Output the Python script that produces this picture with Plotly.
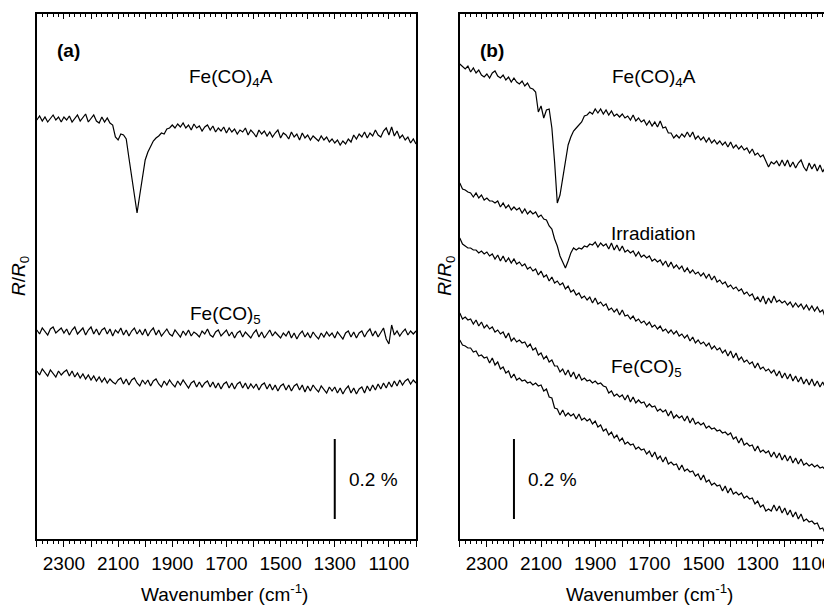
import plotly.graph_objects as go

# ---------------- data ----------------
# wavenumber grid, cm^-1
WAVENUMBER = list(range(2400, 999, -10))

# R/R0 traces, in units of 0.0025 % (so the 0.2 % scale bar = 80 units),
# each trace includes its vertical display offset
A_FECO4A = [
    419, 423, 418, 422, 417, 421, 424, 419, 422, 417,
    422, 419, 423, 417, 420, 424, 418, 422, 425, 417,
    421, 424, 418, 416, 422, 417, 421, 416, 414, 402,
    399, 405, 404, 400, 381, 361, 341, 326, 344, 362,
    379, 387, 393, 398, 401, 403, 406, 405, 410, 411,
    414, 411, 415, 412, 416, 411, 414, 409, 415, 411,
    413, 408, 412, 414, 409, 413, 407, 411, 408, 412,
    406, 411, 407, 410, 405, 409, 407, 411, 404, 409,
    406, 402, 409, 405, 408, 403, 407, 402, 406, 409,
    401, 406, 404, 400, 407, 402, 405, 399, 406, 401,
    404, 399, 403, 400, 398, 403, 399, 402, 397, 400,
    396, 399, 394, 398, 395, 400, 397, 404, 400, 405,
    402, 407, 401, 406, 403, 409, 404, 402, 408, 411,
    404, 412, 403, 408, 401, 404, 399, 402, 396, 400,
    395,
]
A_FECO5 = [
    209, 205, 211, 207, 204, 210, 212, 206, 209, 211,
    206, 210, 204, 209, 212, 205, 208, 211, 204, 209,
    212, 205, 210, 204, 209, 211, 205, 210, 203, 209,
    206, 211, 204, 209, 203, 208, 211, 205, 209, 204,
    210, 203, 208, 211, 204, 209, 203, 207, 210, 205,
    203, 209, 206, 202, 208, 204, 209, 203, 207, 205,
    202, 208, 205, 210, 204, 202, 207, 209, 203, 206,
    209, 203, 207, 201, 206, 208, 202, 207, 204, 201,
    206, 209, 202, 207, 201, 205, 209, 203, 207, 204,
    201, 206, 203, 208, 201, 206, 200, 205, 208, 202,
    206, 201, 207, 203, 200, 206, 202, 207, 203, 206,
    201, 207, 203, 200, 206, 208, 202, 207, 201, 206,
    208, 202, 207, 210, 203, 208, 202, 207, 211, 200,
    195, 214, 204, 208, 203, 207, 210, 204, 208, 205,
    208,
]
A_BLANK = [
    168, 164, 170, 166, 163, 169, 165, 162, 168, 164,
    167, 169, 163, 168, 162, 166, 161, 165, 160, 164,
    159, 163, 158, 162, 157, 161, 156, 160, 157, 155,
    159, 161, 155, 160, 154, 159, 161, 156, 153, 159,
    155, 159, 153, 158, 160, 155, 152, 158, 154, 159,
    155, 152, 158, 154, 159, 155, 151, 156, 158, 152,
    157, 152, 156, 158, 152, 157, 151, 156, 150, 155,
    157, 151, 156, 150, 155, 157, 151, 156, 150, 155,
    151, 155, 149, 154, 156, 150, 155, 149, 154, 148,
    153, 155, 149, 154, 148, 153, 155, 149, 154, 147,
    153, 148, 154, 150, 147, 153, 149, 146, 152, 148,
    152, 146, 151, 145, 150, 153, 146, 151, 145, 150,
    152, 146, 153, 148, 154, 149, 155, 150, 156, 151,
    157, 152, 158, 153, 159, 154, 158, 160, 155, 159,
    156,
]
B_FECO4A = [
    475, 472, 470, 473, 467, 471, 466, 469, 464, 462,
    465, 461, 466, 468, 463, 461, 464, 459, 462, 457,
    461, 457, 455, 458, 453, 456, 451, 450, 447, 427,
    433, 421, 429, 430, 411, 377, 336, 344, 361, 374,
    394, 402, 408, 411, 414, 417, 423, 424, 427, 425,
    430, 426, 430, 425, 429, 424, 428, 423, 425, 422,
    425, 421, 423, 419, 424, 418, 421, 417, 419, 414,
    418, 413, 417, 412, 418, 411, 412, 406, 406, 401,
    404, 401, 405, 402, 407, 402, 407, 400, 403, 399,
    402, 397, 401, 396, 399, 395, 398, 394, 397, 392,
    397, 391, 394, 390, 393, 389, 391, 386, 390, 384,
    386, 382, 384, 378, 372, 377, 375, 378, 373, 379,
    373, 379, 372, 377, 371, 376, 379, 372, 368, 376,
    370, 375, 368, 374, 367, 372, 366, 370, 365, 369,
    364,
]
B_IRRAD = [
    356, 350, 349, 347, 346, 342, 346, 341, 344, 339,
    341, 338, 338, 336, 338, 332, 336, 331, 334, 329,
    332, 329, 331, 326, 330, 325, 328, 325, 327, 322,
    324, 320, 319, 313, 310, 300, 293, 283, 277, 271,
    278, 286, 291, 289, 291, 290, 293, 292, 295, 294,
    297, 292, 296, 293, 295, 290, 296, 289, 294, 288,
    293, 287, 289, 286, 288, 283, 287, 282, 284, 281,
    283, 278, 280, 277, 279, 274, 278, 272, 277, 271,
    274, 270, 273, 267, 271, 266, 269, 265, 267, 263,
    266, 261, 265, 259, 263, 257, 259, 255, 257, 252,
    254, 250, 252, 248, 250, 245, 247, 243, 245, 239,
    242, 237, 243, 235, 241, 236, 243, 237, 239, 236,
    238, 234, 237, 232, 236, 232, 235, 230, 234, 229,
    233, 228, 232, 227, 229, 221, 228, 219, 225, 218,
    222,
]
B_TRACE3 = [
    301, 295, 293, 291, 291, 289, 289, 286, 288, 285,
    287, 283, 285, 280, 284, 278, 283, 277, 281, 276,
    280, 275, 277, 273, 275, 270, 272, 268, 270, 264,
    268, 262, 264, 258, 262, 256, 258, 254, 256, 250,
    253, 247, 249, 244, 246, 241, 243, 239, 242, 236,
    241, 235, 237, 233, 235, 229, 231, 227, 230, 224,
    229, 223, 224, 220, 223, 218, 220, 216, 218, 214,
    217, 212, 214, 210, 213, 208, 210, 206, 209, 205,
    208, 203, 205, 201, 204, 198, 202, 196, 199, 195,
    197, 193, 196, 190, 193, 189, 191, 186, 189, 183,
    188, 181, 186, 179, 182, 177, 179, 175, 177, 171,
    176, 170, 172, 168, 170, 166, 169, 163, 168, 161,
    166, 160, 165, 158, 163, 157, 162, 155, 160, 154,
    160, 153, 158, 152, 157, 151, 156, 150, 153, 149,
    152,
]
B_FECO5 = [
    226, 220, 222, 219, 220, 215, 219, 213, 217, 211,
    214, 210, 212, 207, 209, 205, 207, 201, 206, 198,
    201, 197, 199, 196, 197, 192, 195, 189, 191, 184,
    186, 180, 183, 177, 179, 173, 173, 167, 170, 164,
    169, 162, 167, 160, 165, 159, 161, 158, 159, 156,
    158, 155, 156, 153, 152, 146, 148, 143, 145, 142,
    144, 139, 144, 137, 142, 136, 139, 136, 137, 132,
    135, 132, 133, 128, 130, 127, 129, 123, 128, 121,
    124, 121, 123, 118, 123, 116, 121, 115, 117, 114,
    116, 111, 113, 110, 111, 108, 109, 106, 107, 104,
    106, 100, 102, 96, 101, 94, 96, 93, 94, 88,
    93, 87, 89, 86, 88, 82, 87, 81, 86, 79,
    84, 78, 83, 76, 81, 75, 80, 74, 76, 73,
    75, 72, 74, 71, 72, 69, 71, 66, 68, 65,
    66,
]
B_TRACE5 = [
    199, 194, 193, 191, 191, 187, 188, 183, 184, 181,
    182, 176, 181, 174, 177, 170, 172, 166, 168, 161,
    165, 159, 161, 158, 159, 156, 157, 154, 156, 153,
    154, 148, 150, 142, 141, 131, 130, 124, 129, 123,
    126, 123, 125, 120, 125, 119, 121, 118, 120, 115,
    118, 112, 114, 108, 110, 104, 107, 101, 104, 98,
    101, 95, 97, 94, 95, 90, 92, 89, 90, 85,
    88, 82, 87, 80, 83, 77, 82, 75, 77, 74,
    75, 69, 74, 68, 70, 67, 68, 63, 65, 59,
    64, 57, 59, 54, 56, 53, 54, 48, 53, 46,
    51, 45, 47, 44, 46, 41, 43, 40, 41, 35,
    38, 32, 34, 28, 30, 28, 34, 28, 33, 26,
    31, 24, 29, 22, 27, 20, 25, 18, 20, 17,
    18, 15, 16, 10, 11, 5, 7, 3, 5, 2,
    3,
]
UNIT_PCT = 0.0025            # one data unit in percent
SCALE_BAR_PCT = 0.2          # scale bar length (%)
SCALE_BAR_BASE = 0.05        # bottom of scale bar (%)
SCALE_BAR_X = {"a": 1300, "b": 2200}

TICK_VALS = list(range(2400, 999, -100))
TICK_TEXT = ["" if v % 200 == 0 else str(v) for v in TICK_VALS]

PANEL_A_TRACES = [A_FECO4A, A_FECO5, A_BLANK]
PANEL_B_TRACES = [B_FECO4A, B_IRRAD, B_TRACE3, B_FECO5, B_TRACE5]

# ---------------- figure ----------------
FONT = "Liberation Sans, Arial, Helvetica, sans-serif"
FS = 19
OFF = 8                      # page body margin
W, H = 832 - OFF, 606 - OFF
fig = go.Figure()

def pct(vals):
    return [v * UNIT_PCT for v in vals]

for tr in PANEL_A_TRACES:
    fig.add_trace(go.Scatter(x=WAVENUMBER, y=pct(tr), mode="lines",
                             line=dict(color="black", width=1.2),
                             xaxis="x", yaxis="y", showlegend=False, hoverinfo="skip"))
for tr in PANEL_B_TRACES:
    fig.add_trace(go.Scatter(x=WAVENUMBER, y=pct(tr), mode="lines",
                             line=dict(color="black", width=1.2),
                             xaxis="x2", yaxis="y2", showlegend=False, hoverinfo="skip"))

# scale bars
for key, xa, ya in (("a", "x", "y"), ("b", "x2", "y2")):
    xb = SCALE_BAR_X[key]
    fig.add_trace(go.Scatter(x=[xb, xb], y=[SCALE_BAR_BASE, SCALE_BAR_BASE + SCALE_BAR_PCT],
                             mode="lines", line=dict(color="black", width=2),
                             xaxis=xa, yaxis=ya, showlegend=False, hoverinfo="skip"))
    fig.add_annotation(x=xb, y=SCALE_BAR_BASE + SCALE_BAR_PCT / 2, xref=xa, yref=ya,
                       text="0.2 %", showarrow=False, xanchor="left", yanchor="middle",
                       xshift=12, font=dict(size=FS, color="black", family=FONT))

# dummy traces so the top (inside-tick) axes are drawn
fig.add_trace(go.Scatter(x=[None], y=[None], xaxis="x3", yaxis="y", showlegend=False, hoverinfo="skip"))
fig.add_trace(go.Scatter(x=[None], y=[None], xaxis="x4", yaxis="y2", showlegend=False, hoverinfo="skip"))

LW = 1.6
dom_a = [(37 - OFF) / W, (418 - OFF) / W]
dom_b = [(462 - OFF) / W, 1.0]
px_per_cm = (418 - 37) / 1400.0
range_a = [2400, 1000]
range_b = [2400, 2400 - (832 - 462) / px_per_cm]
YR = [0, 525 * UNIT_PCT]

def bottom_axis(dom, rng, anchor):
    return dict(domain=dom, range=rng, anchor=anchor, showline=True, linecolor="black",
                linewidth=LW, ticks="outside", ticklen=6, tickwidth=1.2, tickcolor="black",
                tickmode="array", tickvals=TICK_VALS, ticktext=TICK_TEXT,
                ticklabeloverflow="allow",
                minor=dict(tickmode="linear", tick0=1000, dtick=20, ticks="outside",
                           ticklen=3, tickwidth=1, tickcolor="black"),
                showgrid=False, zeroline=False,
                tickfont=dict(size=FS, color="black", family=FONT))

def top_axis(over, rng, anchor):
    return dict(overlaying=over, range=rng, anchor=anchor, side="top", showline=True,
                linecolor="black", linewidth=LW, ticks="inside", ticklen=5, tickwidth=1.2,
                tickcolor="black", tickmode="array", tickvals=TICK_VALS,
                showticklabels=False,
                minor=dict(tickmode="linear", tick0=1000, dtick=20, ticks="inside",
                           ticklen=3, tickwidth=1, tickcolor="black"),
                showgrid=False, zeroline=False)

TOP = 14 - OFF
BOT = 539 - OFF
fig.update_layout(
    width=W, height=H,
    margin=dict(l=0, r=0, t=TOP, b=H - BOT),
    paper_bgcolor="white", plot_bgcolor="white",
    font=dict(family=FONT, color="black", size=FS),
    xaxis=bottom_axis(dom_a, range_a, "y"),
    xaxis2=bottom_axis(dom_b, range_b, "y2"),
    xaxis3=top_axis("x", range_a, "y"),
    xaxis4=top_axis("x2", range_b, "y2"),
    yaxis=dict(domain=[0, 1], range=YR, anchor="x", showline=True, mirror=True,
               linecolor="black", linewidth=LW, ticks="", showticklabels=False,
               showgrid=False, zeroline=False),
    yaxis2=dict(domain=[0, 1], range=YR, anchor="x2", showline=True, mirror=False,
                linecolor="black", linewidth=LW, ticks="", showticklabels=False,
                showgrid=False, zeroline=False),
)

def ann(text, x, y, xref, yref, **kw):
    d = dict(text=text, x=x, y=y, xref=xref, yref=yref, showarrow=False,
             xanchor="center", yanchor="middle",
             font=dict(size=FS, color="black", family=FONT))
    d.update(kw)
    fig.add_annotation(**d)

# panel labels and curve labels (data coordinates, y in %)
ann("<b>(a)</b>", 2334, 1.2225, "x", "y", xanchor="left")
ann("<b>(b)</b>", 2334, 1.2225, "x2", "y2", xanchor="left")
ann("Fe(CO)<sub>4</sub>A", 1683, 1.1525, "x", "y")
ann("Fe(CO)<sub>4</sub>A", 1683, 1.1525, "x2", "y2")
ann("Fe(CO)<sub>5</sub>", 1705, 0.56, "x", "y")
ann("Irradiation", 1683, 0.765, "x2", "y2")
ann("Fe(CO)<sub>5</sub>", 1709, 0.4275, "x2", "y2")

# axis titles (screen pixel positions converted to paper coords)
def px(xs):
    return (xs - OFF) / W
def py(ys):
    return (BOT - (ys - OFF)) / (BOT - TOP)

ann("Wavenumber (cm<sup>-1</sup>)", px(226), py(593), "paper", "paper")
ann("Wavenumber (cm<sup>-1</sup>)", px(653), py(593), "paper", "paper")
ann("<i>R</i>/<i>R</i><sub>0</sub>", px(20), py(276), "paper", "paper", textangle=-90)
ann("<i>R</i>/<i>R</i><sub>0</sub>", px(448), py(276), "paper", "paper", textangle=-90)

fig.write_html("out.html")
